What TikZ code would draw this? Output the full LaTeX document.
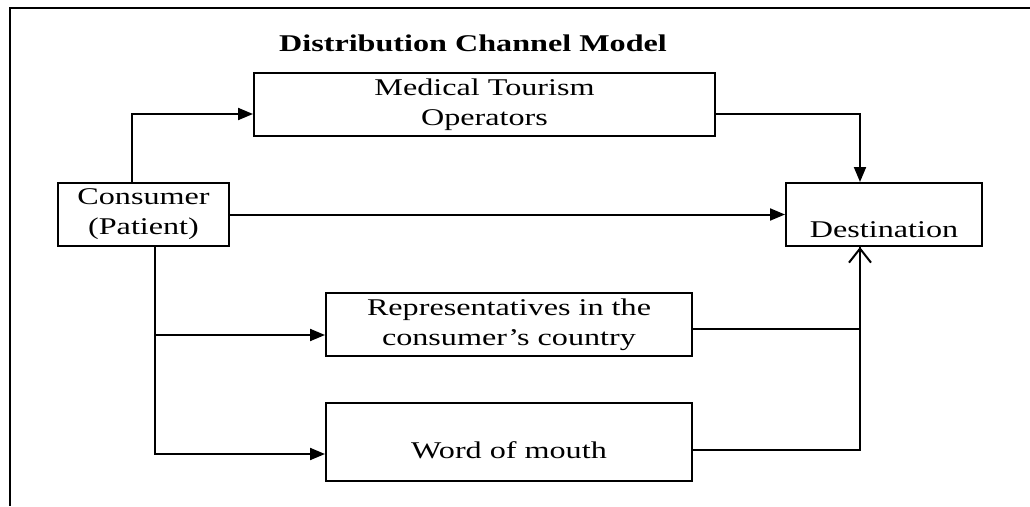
\documentclass[tikz,border=0pt]{standalone}
\usepackage{fontspec}
\setmainfont{Liberation Serif}[FakeStretch=1.34]
\usetikzlibrary{arrows.meta, positioning}

\begin{document}
\begin{tikzpicture}[x=1pt, y=-1pt, line width=2pt,
                    font=\fontsize{24}{30}\selectfont,
                    box/.style={draw, line width=2pt, align=center, inner sep=0pt},
                    fwd/.style={-{Triangle[length=15pt,width=12pt]}},
                    back/.style={-{Straight Barb[length=14pt,width=22pt]}}]

  \useasboundingbox (0,0) rectangle (1030,506);
  \draw (1030,8) -- (10,8) -- (10,506);

  \node[font=\fontsize{24}{30}\selectfont\bfseries] at (473,43) (title) {Distribution Channel Model};

  \node[box, minimum width=461pt, minimum height=63pt] at (484.5,104.5) (operators) {Medical Tourism\\Operators};
  \node[box, minimum width=171pt, minimum height=63pt] at (143.5,214.5) (consumer)  {Consumer\\(Patient)};
  \node[box, minimum width=196pt, minimum height=63pt] at (884,214.5)   (dest)      {\raisebox{-15pt}[\height][\depth]{Destination}};
  \node[box, minimum width=366pt, minimum height=63pt] at (509,324.5)   (reps)      {Representatives in the\\consumer’s country};
  \node[box, minimum width=366pt, minimum height=78pt] at (509,442)     (word)      {\raisebox{-8pt}[\height][\depth]{Word of mouth}};

  \coordinate (merge) at ([xshift=-24pt]dest.south);

  \draw[fwd] ([xshift=-11.5pt]consumer.north) |- ([yshift=-9.5pt]operators.west);
  \draw[fwd] (consumer) -- (dest);
  \draw[fwd] ([yshift=-9.5pt]operators.east) -| ([xshift=-24pt]dest.north);
  \draw[fwd] ([xshift=11.5pt]consumer.south) |- ([yshift=-10.5pt]reps.west);
  \draw[fwd] ([xshift=11.5pt]consumer.south) |- ([yshift=-12pt]word.west);
  \draw ([yshift=-4.5pt]reps.east) -| (merge);
  \draw[back] ([yshift=-8pt]word.east) -| (merge);

\end{tikzpicture}
\end{document}
